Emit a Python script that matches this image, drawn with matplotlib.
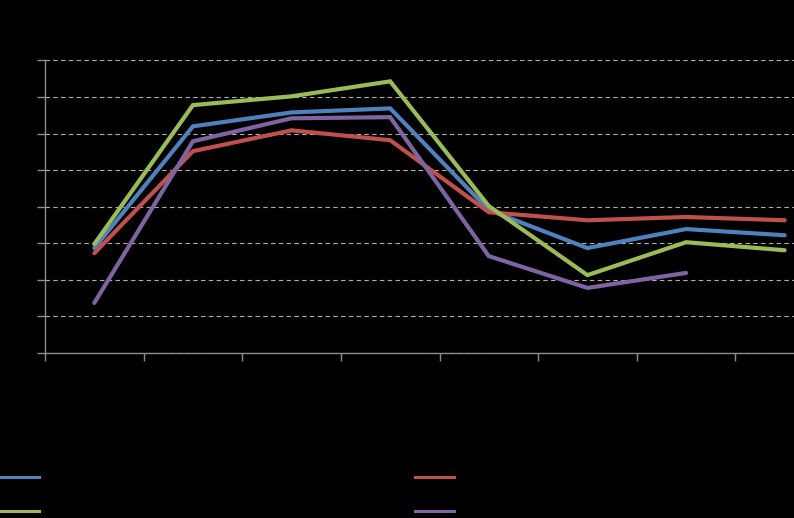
import numpy as np
import matplotlib.pyplot as plt
from matplotlib.lines import Line2D

# eight categories, four series (in grid units)
categories = ["1", "2", "3", "4", "5", "6", "7", "8"]
series_names = ["Series 1", "Series 2", "Series 3", "Series 4"]
blue = [2.87, 6.20, 6.58, 6.69, 3.91, 2.87, 3.39, 3.22]
red = [2.73, 5.52, 6.09, 5.82, 3.85, 3.63, 3.72, 3.63]
green = [2.98, 6.78, 7.02, 7.43, 4.02, 2.13, 3.03, 2.81]
purple = [1.37, 5.79, 6.42, 6.45, 2.65, 1.78, 2.19, np.nan]
colors = ["#4f81bd", "#c0504d", "#9bbb59", "#8064a2"]

W, H = 794, 518
fig = plt.figure(figsize=(W / 100, H / 100), dpi=100, facecolor="black")
# plot area runs past the right edge of the picture, as in the original
ax = fig.add_axes([45 / W, (H - 353) / H, 789 / W, 292.5 / H], facecolor="black")

x = np.arange(len(categories)) + 0.5
lines = []
for vals, c, name in zip([blue, red, green, purple], colors, series_names):
  ln, = ax.plot(x, vals, color=c, lw=3, label=name, solid_capstyle="round",
                solid_joinstyle="miter")
  lines.append(ln)

ax.set_xlim(0, len(categories))
ax.set_ylim(0, 8)
ax.set_xticks(np.arange(len(categories) + 1))
ax.set_xticklabels([])
ax.set_yticks(np.arange(9))
ax.set_yticklabels([])
ax.yaxis.grid(True, color="#b0b0b0", ls=(0, (4, 3)), lw=0.8)
ax.set_axisbelow(True)
for s in ["top", "right"]:
  ax.spines[s].set_visible(False)
for s in ["left", "bottom"]:
  ax.spines[s].set_color("#8c8c8c")
  ax.spines[s].set_linewidth(1)
ax.tick_params(colors="#8c8c8c", length=6, width=1, labelcolor="black")

# legend (text is black on black, like the original)
order = [0, 2, 1, 3]
handles = [Line2D([], [], color=colors[i], lw=2.2) for i in order]
labels = [series_names[i] for i in order]
leg = fig.legend(handles, labels, ncol=2, loc="upper left",
                 bbox_to_anchor=(0, 1 - 471 / H), frameon=False,
                 fontsize=10, handlelength=2.8, handletextpad=0.5,
                 columnspacing=22.6, labelspacing=1.44,
                 borderpad=0, borderaxespad=0, labelcolor="black")

fig.savefig("out.png", dpi=100, facecolor="black")
